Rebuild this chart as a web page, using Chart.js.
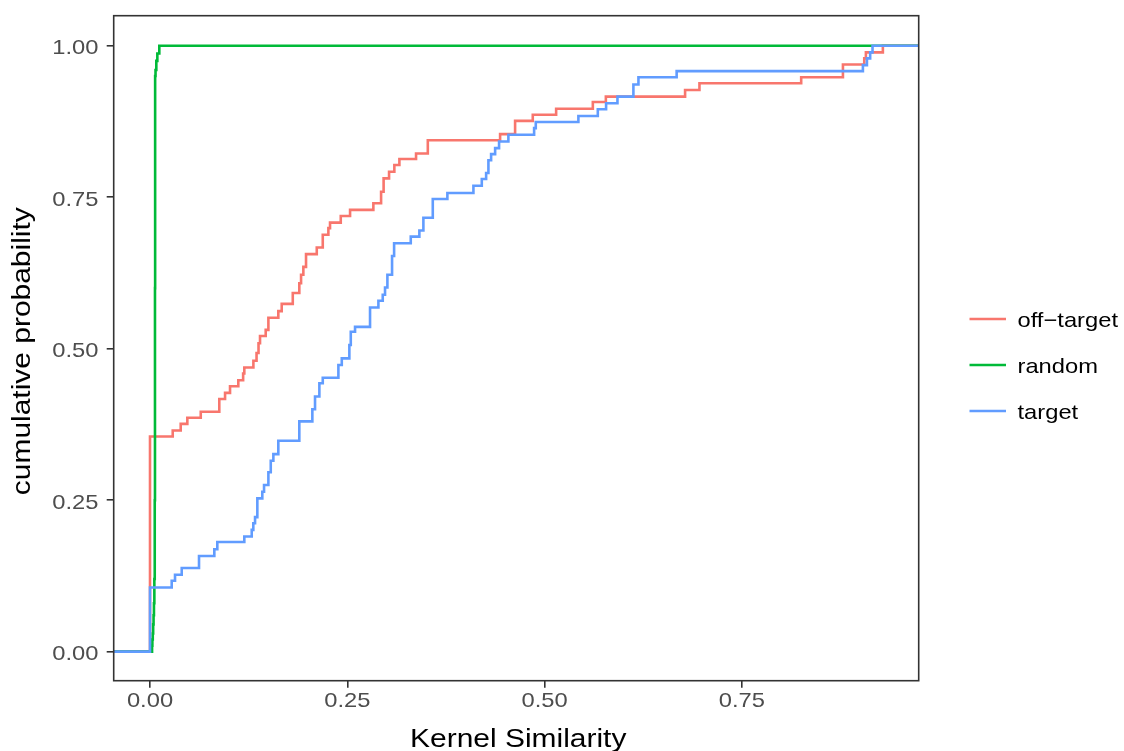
<!DOCTYPE html>
<html>
<head>
<meta charset="utf-8">
<script src="https://cdn.jsdelivr.net/npm/chart.js@4.4.1/dist/chart.umd.min.js"></script>
<style>
html,body{margin:0;padding:0;background:#fff;}
#wrap{width:1124px;height:751px;position:relative;}
</style>
</head>
<body>
<div id="wrap"><canvas id="c" width="1124" height="751"></canvas></div>
<script>
// ---- data ----
const seriesNames = ["off\u2212target", "random", "target"];
const seriesColors = ["#F8766D", "#00BA38", "#619CFF"];

const offTargetX = [-0.05, 0.000, 0.0288, 0.0389, 0.0473, 0.0643, 0.0878, 0.0951, 0.1014, 0.1119, 0.1180, 0.1195, 0.1310, 0.1350, 0.1375, 0.1394, 0.1466, 0.1500, 0.1626, 0.1669, 0.1809, 0.1892, 0.1914, 0.1943, 0.1977, 0.2113, 0.2189, 0.2260, 0.2281, 0.2417, 0.2535, 0.2830, 0.2928, 0.2960, 0.3029, 0.3096, 0.3160, 0.3371, 0.3520, 0.4436, 0.4626, 0.4850, 0.5146, 0.5611, 0.5776, 0.6780, 0.6962, 0.8251, 0.8780, 0.9050, 0.9071, 0.9286, 1.05];
const offTargetY = [0, 0.355, 0.365, 0.376, 0.386, 0.396, 0.417, 0.427, 0.438, 0.448, 0.459, 0.469, 0.480, 0.493, 0.509, 0.521, 0.531, 0.551, 0.562, 0.574, 0.592, 0.608, 0.622, 0.635, 0.656, 0.667, 0.688, 0.699, 0.708, 0.719, 0.729, 0.740, 0.759, 0.781, 0.792, 0.803, 0.813, 0.822, 0.844, 0.854, 0.876, 0.886, 0.896, 0.907, 0.916, 0.927, 0.938, 0.948, 0.969, 0.979, 0.989, 1.000, 1.000];

const randomX = [-0.05, 0.0022, 0.0026, 0.0030, 0.0035, 0.0040, 0.0045, 0.0050, 0.0055, 0.0060, 0.0063, 0.0065, 0.0070, 0.0080, 0.0093, 0.0118, 1.05];
const randomY = [0, 0.000, 0.010, 0.020, 0.030, 0.045, 0.060, 0.080, 0.120, 0.250, 0.600, 0.950, 0.960, 0.975, 0.987, 1.000, 1.000];

const targetX = [-0.05, 0.000, 0.0275, 0.0317, 0.0402, 0.0621, 0.0815, 0.0853, 0.1195, 0.1289, 0.1309, 0.1331, 0.1360, 0.1423, 0.1445, 0.1500, 0.1530, 0.1563, 0.1626, 0.1892, 0.2057, 0.2091, 0.2146, 0.2189, 0.2387, 0.2430, 0.2526, 0.2544, 0.2598, 0.2788, 0.2894, 0.2949, 0.2978, 0.3008, 0.3067, 0.3093, 0.3304, 0.3413, 0.3464, 0.3583, 0.3768, 0.4098, 0.4204, 0.4259, 0.4288, 0.4322, 0.4373, 0.4423, 0.4541, 0.4867, 0.4888, 0.5428, 0.5674, 0.5779, 0.5923, 0.6125, 0.6189, 0.6673, 0.9033, 0.9084, 0.9125, 0.9155, 1.05];
const targetY = [0, 0.106, 0.117, 0.127, 0.138, 0.158, 0.169, 0.181, 0.190, 0.201, 0.212, 0.222, 0.253, 0.264, 0.275, 0.296, 0.315, 0.326, 0.348, 0.380, 0.400, 0.421, 0.443, 0.452, 0.473, 0.484, 0.506, 0.528, 0.536, 0.568, 0.579, 0.589, 0.601, 0.622, 0.653, 0.674, 0.685, 0.695, 0.716, 0.747, 0.757, 0.769, 0.780, 0.790, 0.811, 0.821, 0.831, 0.842, 0.853, 0.864, 0.874, 0.884, 0.895, 0.905, 0.916, 0.936, 0.948, 0.958, 0.968, 0.979, 0.989, 1.000, 1.000];

const xTicks = [0, 0.25, 0.50, 0.75];
const yTicks = [0, 0.25, 0.50, 0.75, 1.00];
const xTitle = "Kernel Similarity";
const yTitle = "cumulative probability";

// ---- build ----
function pts(xs, ys){ return xs.map((x,i)=>({x:x, y:ys[i]})); }
const allX = [offTargetX, randomX, targetX];
const allY = [offTargetY, randomY, targetY];
const drawOrder = [2, 1, 0];

const datasets = seriesNames.map((n,i)=>({
  label: n,
  data: pts(allX[i], allY[i]),
  borderColor: seriesColors[i],
  backgroundColor: seriesColors[i],
  borderWidth: 2.6,
  pointRadius: 0,
  stepped: 'before',
  fill: false,
  order: drawOrder[i]
}));

const FONT = '"Liberation Sans", Arial, Helvetica, sans-serif';
const K = 1.13; // glyph width factor

function txt(ctx, s, x, y, size, color, align, rot){
  ctx.save();
  ctx.translate(x, y);
  if (rot) ctx.rotate(rot);
  ctx.scale(K, 1);
  ctx.font = size + 'px ' + FONT;
  ctx.fillStyle = color;
  ctx.textAlign = align;
  ctx.textBaseline = 'alphabetic';
  ctx.fillText(s, 0, 0);
  ctx.restore();
}

const decor = {
  id: 'decor',
  afterDraw(chart){
    const ctx = chart.ctx, a = chart.chartArea;
    const xs = chart.scales.x, ys = chart.scales.y;
    ctx.save();
    ctx.strokeStyle = '#333333';
    ctx.lineWidth = 1.6;
    ctx.strokeRect(a.left, a.top, a.right - a.left, a.bottom - a.top);
    ctx.restore();
    xTicks.forEach(v=>{
      txt(ctx, v.toFixed(2), xs.getPixelForValue(v), 706.5, 21, '#4D4D4D', 'center');
    });
    yTicks.forEach(v=>{
      txt(ctx, v.toFixed(2), 98.5, ys.getPixelForValue(v) + 8.5, 21, '#4D4D4D', 'right');
    });
    txt(ctx, xTitle, (a.left + a.right)/2 + 2, 746.5, 26.5, '#000', 'center');
    txt(ctx, yTitle, 30, (a.top + a.bottom)/2 + 3, 26.5, '#000', 'center', -Math.PI/2);
    const ly = [319, 365, 411];
    seriesNames.forEach((n,i)=>{
      ctx.save();
      ctx.strokeStyle = seriesColors[i];
      ctx.lineWidth = 2.6;
      ctx.beginPath();
      ctx.moveTo(969.5, ly[i]);
      ctx.lineTo(1006, ly[i]);
      ctx.stroke();
      ctx.restore();
      txt(ctx, n, 1017.5, ly[i] + 8, 21, '#000', 'left');
    });
  }
};

new Chart(document.getElementById('c'), {
  type: 'line',
  data: { datasets: datasets },
  options: {
    responsive: false,
    animation: false,
    events: [],
    layout: { padding: { left: 0, right: 205.3, top: 15.7, bottom: 0 } },
    plugins: { legend: { display: false }, tooltip: { enabled: false } },
    scales: {
      x: {
        type: 'linear',
        min: -0.046, max: 0.974,
        afterBuildTicks(s){ s.ticks = xTicks.map(v=>({value:v})); },
        afterFit(s){ s.height = 70.3; },
        ticks: { display: false },
        border: { display: false },
        grid: { drawOnChartArea: false, drawTicks: true, tickLength: 7, color: '#333333', lineWidth: 1.6 }
      },
      y: {
        type: 'linear',
        min: -0.0479, max: 1.0495,
        afterBuildTicks(s){ s.ticks = yTicks.map(v=>({value:v})); },
        afterFit(s){ s.width = 113.7; },
        ticks: { display: false },
        border: { display: false },
        grid: { drawOnChartArea: false, drawTicks: true, tickLength: 7, color: '#333333', lineWidth: 1.6 }
      }
    }
  },
  plugins: [decor]
});
</script>
</body>
</html>
